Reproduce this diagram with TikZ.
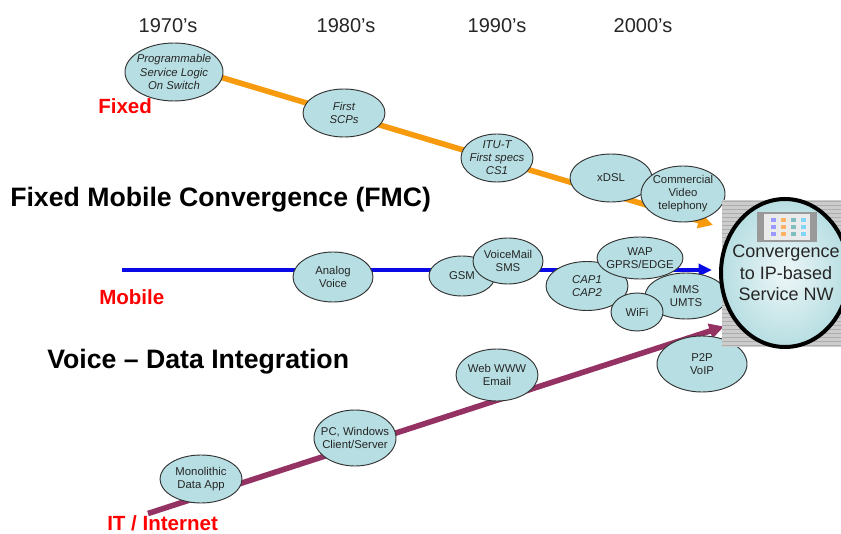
\documentclass[tikz,border=0pt]{standalone}
\usepackage{fontspec}
\setmainfont{Liberation Sans}
\usetikzlibrary{shapes.geometric,arrows.meta,patterns}
\definecolor{bub}{HTML}{B7DEE2}
\definecolor{orangeline}{HTML}{F79A0E}
\definecolor{blueline}{HTML}{0A0AE6}
\definecolor{plumline}{HTML}{943264}
\tikzset{
  bubble/.style={ellipse,draw=black!80,line width=0.7pt,fill=bub,inner sep=-8pt,align=center,
    font=\fontsize{8.5}{9.8}\selectfont,text=black!85},
  ital/.style={font=\fontsize{8.5}{9.8}\selectfont\itshape},
  radii/.style 2 args={minimum width=#1*1.5pt,minimum height=#2*1.5pt},
  year/.style={font=\fontsize{15}{18}\selectfont,text=black!85},
  head/.style={font=\fontsize{20}{24}\selectfont\bfseries,anchor=west,inner sep=0pt},
  track/.style={font=\fontsize{15.4}{18}\selectfont\bfseries,text=red,anchor=west,inner sep=0pt},
  trunk/.style={line width=4.2pt,-{Triangle[length=11pt,width=11pt]}},
  trunkthin/.style={line width=3.0pt,-{Triangle[length=10pt,width=9pt]}},
}
\begin{document}
\begin{tikzpicture}[x=0.75pt,y=-0.75pt]
\useasboundingbox[fill=white] (0,0) rectangle (841,534);
% free ends
\coordinate (fixedstart) at (200,71);
\coordinate (fixedend) at (713,225);
\coordinate (mobilestart) at (122,270);
\coordinate (mobileend) at (712,270);
\coordinate (itstart) at (148,513.5);
\coordinate (itend) at (724,326.5);
% lines
\draw[trunk,orangeline] (fixedstart) -- (fixedend);
\draw[trunkthin,blueline] (mobilestart) -- (mobileend);
\draw[trunk,plumline] (itstart) -- (itend);
% years
\node[year] (y70) at (168,26) {1970's};
\node[year] (y80) at (346,26) {1980's};
\node[year] (y90) at (497,26) {1990's};
\node[year] (y00) at (643,26) {2000's};
% headings
\node[head] (fmc) at (10,200) {Fixed Mobile Convergence (FMC)};
\node[head] (vdi) at (47,362) {Voice -- Data Integration};
\node[track] (lfixed) at (98,106) {Fixed};
\node[track] (lmobile) at (99,297) {Mobile};
\node[track] (lit) at (107,523) {IT / Internet};
% fixed
\node[bubble,ital,radii={49}{29}] (prog) at (174,72) {Programmable\\Service Logic\\On Switch};
\node[bubble,ital,radii={41}{24}] (scp) at (344,113) {First\\SCPs};
\node[bubble,ital,radii={36}{24}] (itu) at (497,158) {ITU-T\\First specs\\CS1};
\node[bubble,radii={41}{24}] (xdsl) at (611,178) {xDSL};
\node[bubble,radii={42}{28}] (video) at (683,194) {Commercial\\Video\\telephony};
% mobile
\node[bubble,radii={40}{25}] (analog) at (333,277) {Analog\\Voice};
\node[bubble,radii={33}{20}] (gsm) at (462,276) {GSM};
\node[bubble,radii={35}{23}] (vm) at (508,261) {VoiceMail\\SMS};
\node[bubble,ital,radii={41}{24.5}] (cap) at (587,286) {CAP1\\CAP2};
\node[bubble,radii={41}{23}] (mms) at (686,296) {MMS\\UMTS};
\node[bubble,radii={43}{21}] (wap) at (640,258) {WAP\\GPRS/EDGE};
\node[bubble,radii={26}{19}] (wifi) at (637,312) {WiFi};
% IT
\node[bubble,radii={41}{24}] (mono) at (201,479) {Monolithic\\Data App};
\node[bubble,radii={41}{28}] (pc) at (355,438) {PC, Windows\\Client/Server};
\node[bubble,radii={41}{26}] (web) at (497,375) {Web WWW\\Email};
\node[bubble,radii={45}{28}] (p2p) at (702,364) {P2P\\VoIP};
% grey square
\fill[black!20] (722,200) rectangle (841,347);
\fill[pattern=horizontal lines,pattern color=black!32] (722,200) rectangle (841,347);
% convergence
\node[ellipse,draw=black,line width=3pt,inner color=white!75!bub,outer color=bub,inner sep=0pt,
  radii={64}{74}] (conv) at (785,273) {};
% device icon
\fill[black!40] (757,212) rectangle (817,242);
\fill[black!8] (764,214) rectangle (810,240);
\foreach \i/\c in {0/blue!40,1/orange!60,2/teal!50,3/cyan!50}{
  \foreach \j in {0,1,2}{
    \fill[\c] (771+\i*10,218+\j*7) rectangle ++(5,4);
  }
}
\node[font=\fontsize{13.5}{16}\selectfont,text=black!85,align=center,inner sep=0pt] (convtext) at (786,273) {Convergence\\to IP-based\\Service NW};
\end{tikzpicture}
\end{document}
